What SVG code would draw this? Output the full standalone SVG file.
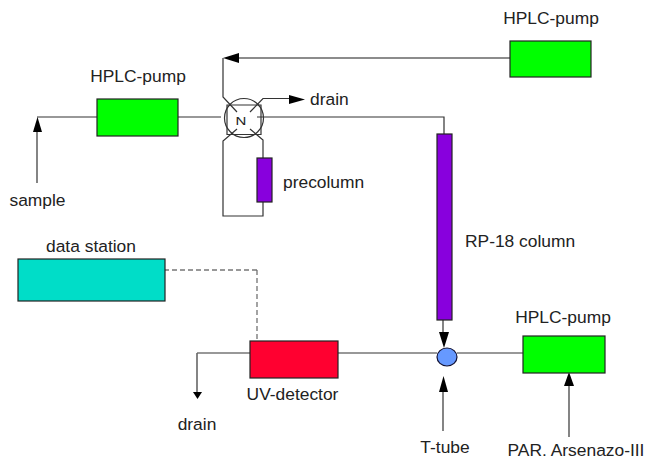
<svg xmlns="http://www.w3.org/2000/svg" width="649" height="460" viewBox="0 0 649 460">
<style>
text{font-family:"Liberation Sans",Arial,sans-serif;font-size:17.4px;fill:#222}
.box{stroke:#222;stroke-width:1.2}
.l{fill:none;stroke:#333;stroke-width:1.2}
.g{fill:none;stroke:#666;stroke-width:1.6}
.a{fill:#000;stroke:none}
</style>
<rect width="649" height="460" fill="#fff"/>
<g id="connectors">
<path class="l" d="M37 117H97M178 117H221M257 117H444V134"/>
<path class="g" d="M37 183V125"/><path class="a" d="M37.500 117L33 132H42Z"/>
<path class="g" d="M510 58H232"/><path class="a" d="M223 58L239 53V63Z"/>
<path class="l" d="M223 58V97L237 112"/>
<path class="l" d="M250 112L263 98.500H290"/><path class="a" d="M305 99.500L289 95V104Z"/>
<path class="l" d="M237 129L223 141V216H263V202M263 158V140L250 129"/>
<path class="g" d="M443 320V335"/><path class="a" d="M444 348L439 332H449Z"/>
<path class="l" d="M338 353H437M457 353H523"/>
<path class="g" d="M443 431V385"/><path class="a" d="M443.500 376L439 392H448Z"/>
<path class="l" d="M569 437V380"/><path class="a" d="M569 372L564 386H574Z"/>
<path class="l" d="M250 353H197"/><path class="g" d="M197 353V392"/><path class="a" d="M197.500 399L193 392H202Z"/>
<path d="M164 270H257" fill="none" stroke="#333" stroke-width="1.2" stroke-dasharray="5 3"/>
<path d="M257 270V339" fill="none" stroke="#666" stroke-width="1.2" stroke-dasharray="5 3"/>
</g>
<g id="valve">
<circle cx="244" cy="118" r="19.500" fill="none" stroke="#333" stroke-width="1.2"/>
<path class="l" d="M227 105H261V134.500H227Z"/>
<text transform="translate(241 125) scale(1 .75)" text-anchor="middle" style="font-size:15px">N</text>
</g>
<g id="pump1"><rect class="box" x="97" y="99" width="81" height="37" fill="#00ff00"/><text x="138" y="82" text-anchor="middle">HPLC-pump</text></g>
<g id="pump2"><rect class="box" x="510" y="41" width="81" height="36" fill="#00ff00"/><text x="551" y="24" text-anchor="middle">HPLC-pump</text></g>
<g id="pump3"><rect class="box" x="523" y="336" width="82" height="37" fill="#00ff00"/><text x="563" y="323" text-anchor="middle">HPLC-pump</text></g>
<g id="precolumn"><rect class="box" x="257" y="158" width="15" height="44" fill="#8800dd"/><text x="283" y="188">precolumn</text></g>
<g id="column"><rect class="box" x="437" y="134" width="15" height="186" fill="#8800dd"/><text x="465" y="247">RP-18 column</text></g>
<g id="station"><rect class="box" x="18" y="259" width="147" height="42" fill="#00ddc8"/><text x="91" y="252" text-anchor="middle">data station</text></g>
<g id="detector"><rect class="box" x="250" y="341" width="88" height="37" fill="#ff0030"/><text x="292.500" y="400" text-anchor="middle">UV-detector</text></g>
<g id="ttube"><ellipse cx="447" cy="357" rx="10" ry="9" fill="#6699ff" stroke="#113" stroke-width="1.2"/><text x="445" y="453" text-anchor="middle">T-tube</text></g>
<g id="labels">
<text x="310" y="105">drain</text>
<text x="37.500" y="206" text-anchor="middle">sample</text>
<text x="197" y="430" text-anchor="middle">drain</text>
<text x="576" y="456" text-anchor="middle">PAR. Arsenazo-III</text>
</g>
</svg>
